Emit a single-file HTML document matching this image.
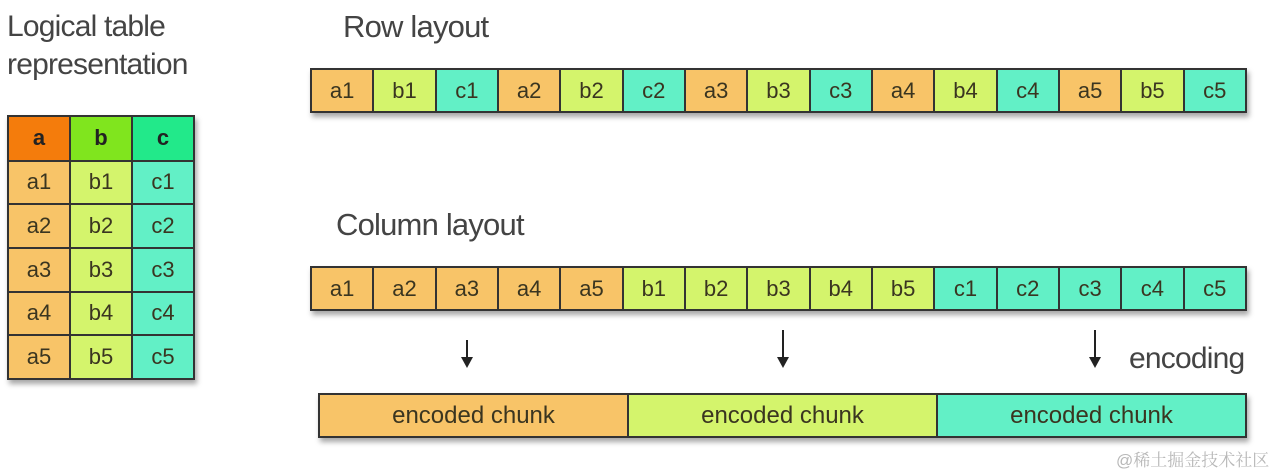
<!DOCTYPE html>
<html><head><meta charset="utf-8"><style>
body{margin:0;width:1280px;height:473px;background:#fff;position:relative;overflow:hidden;font-family:"Liberation Sans",sans-serif;}
.t{position:absolute;color:#444;font-size:30px;letter-spacing:-0.8px;white-space:nowrap;}
.bar{position:absolute;display:flex;border:2px solid #333;box-shadow:2px 4px 5px rgba(0,0,0,0.35);}
.bar div{flex:1;border-left:2px solid #333;display:flex;align-items:center;justify-content:center;font-size:22px;color:#3a3520;}
.bar div:first-child{border-left:none;}
.a{background:#f8c468}.b{background:#d4f46c}.c{background:#62f0c6}
.tbl{position:absolute;left:7px;top:115px;width:188px;height:265px;border:2px solid #333;box-sizing:border-box;display:grid;grid-template-columns:1fr 1fr 1fr;grid-template-rows:45fr 44fr 44fr 44fr 44fr 44fr;box-shadow:2px 4px 5px rgba(0,0,0,0.35);background:#333;gap:2px;}
.tbl div{display:flex;align-items:center;justify-content:center;font-size:22px;color:#3a3520;}
.h{font-weight:bold;color:#222 !important}
.arr{position:absolute;width:2px;background:#222;}
.arr:after{content:"";position:absolute;left-5px;left:-5px;bottom:-2px;border-left:6px solid transparent;border-right:6px solid transparent;border-top:11px solid #222;}
</style></head><body>
<div class="t" style="left:7px;top:8px;line-height:38px">Logical table<br>representation</div>
<div class="t" style="left:343px;top:9px;font-size:31px">Row layout</div>
<div class="t" style="left:336px;top:207px;font-size:31px">Column layout</div>
<div class="t" style="left:1129px;top:342px;font-size:30px">encoding</div>

<div class="tbl">
<div class="h" style="background:#f47c0c">a</div><div class="h" style="background:#80e51e">b</div><div class="h" style="background:#22e98a">c</div>
<div class="a">a1</div><div class="b">b1</div><div class="c">c1</div>
<div class="a">a2</div><div class="b">b2</div><div class="c">c2</div>
<div class="a">a3</div><div class="b">b3</div><div class="c">c3</div>
<div class="a">a4</div><div class="b">b4</div><div class="c">c4</div>
<div class="a">a5</div><div class="b">b5</div><div class="c">c5</div>
</div>

<div class="bar" style="left:310px;top:68px;width:933px;height:41px">
<div class="a">a1</div><div class="b">b1</div><div class="c">c1</div><div class="a">a2</div><div class="b">b2</div><div class="c">c2</div><div class="a">a3</div><div class="b">b3</div><div class="c">c3</div><div class="a">a4</div><div class="b">b4</div><div class="c">c4</div><div class="a">a5</div><div class="b">b5</div><div class="c">c5</div>
</div>

<div class="bar" style="left:310px;top:266px;width:933px;height:41px">
<div class="a">a1</div><div class="a">a2</div><div class="a">a3</div><div class="a">a4</div><div class="a">a5</div><div class="b">b1</div><div class="b">b2</div><div class="b">b3</div><div class="b">b4</div><div class="b">b5</div><div class="c">c1</div><div class="c">c2</div><div class="c">c3</div><div class="c">c4</div><div class="c">c5</div>
</div>

<div class="arr" style="left:466px;top:340px;height:26px"></div>
<div class="arr" style="left:782px;top:330px;height:36px"></div>
<div class="arr" style="left:1094px;top:330px;height:36px"></div>

<div class="bar" style="left:318px;top:393px;width:925px;height:41px">
<div class="a" style="font-size:24px">encoded chunk</div><div class="b" style="font-size:24px">encoded chunk</div><div class="c" style="font-size:24px">encoded chunk</div>
</div>

<div style="position:absolute;left:1116px;top:446px;font-size:17px;color:#b8b8b8;font-family:'Liberation Sans','Noto Serif CJK SC',serif">@稀土掘金技术社区</div>
</body></html>
